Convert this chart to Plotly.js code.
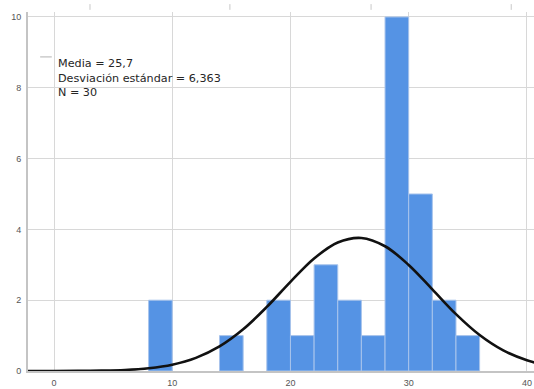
<!DOCTYPE html>
<html>
<head>
<meta charset="utf-8">
<script src="https://cdn.plot.ly/plotly-3.0.1.min.js"></script>
<style>html,body{margin:0;padding:0;background:#fff;}#chart{width:534px;height:389px;}</style>
</head>
<body>
<div id="chart"></div>
<script>
// Histogram bins (centres) and counts
const binCenters = [9, 15, 19, 21, 23, 25, 27, 29, 31, 33, 35];
const binCounts  = [2, 1, 2, 1, 3, 2, 1, 10, 5, 2, 1];
const binWidth = 2;

// Normal curve
const curveX = [-3, -2, 0, 2, 4, 6, 8, 10, 12, 14, 16, 18, 20, 22, 24, 26, 28, 30, 32, 34, 36, 38, 40, 41];
const curveY = [0.0001, 0.0003, 0.001, 0.004, 0.011, 0.03, 0.079, 0.179, 0.371, 0.694, 1.177, 1.809, 2.519, 3.178, 3.630, 3.758, 3.524, 2.995, 2.305, 1.606, 1.015, 0.581, 0.301, 0.209];

const xTicks = [0, 10, 20, 30, 40];
const yTicks = [0, 2, 4, 6, 8, 10];
const statLines = ["Media = 25,7", "Desviación estándar = 6,363", "N = 30"];

const bars = {
  type: 'bar',
  x: binCenters,
  y: binCounts,
  width: binCenters.map(() => binWidth),
  marker: {color: '#5593e4', line: {color: '#a8c4ec', width: 1}},
  hoverinfo: 'x+y',
  showlegend: false
};
const curve = {
  type: 'scatter',
  mode: 'lines',
  x: curveX,
  y: curveY,
  line: {color: '#111111', width: 2.6, shape: 'spline', smoothing: 1},
  hoverinfo: 'skip',
  showlegend: false
};

const tickFont = {family: 'Liberation Sans, Arial, sans-serif', size: 9, color: '#555555'};
const annotations = [{
  xref: 'paper', yref: 'paper', x: 0.058, y: 0.817,
  xanchor: 'left', yanchor: 'middle', align: 'left', showarrow: false, borderpad: 0,
  text: statLines.join('<br>'),
  font: {family: 'DejaVu Sans, sans-serif', size: 11.2, color: '#262626'}
}];

const topTickX = [0.1225, 0.399, 0.678, 0.955];
const shapes = [
  {type: 'rect', xref: 'paper', yref: 'paper', x0: 0.024, x1: 0.561, y0: 0.713, y1: 0.922,
   fillcolor: '#ffffff', line: {width: 0}, layer: 'between'},
  {type: 'line', xref: 'paper', yref: 'paper', x0: 0.024, x1: 0.047, y0: 0.875, y1: 0.875,
   line: {color: '#cccccc', width: 1.5}, layer: 'above'}
].concat(topTickX.map(px => ({
  type: 'line', xref: 'paper', yref: 'paper', x0: px, x1: px, y0: 1.006, y1: 1.022,
  line: {color: '#c8c8c8', width: 1}
})));

const layout = {
  width: 534, height: 389,
  margin: {l: 28, r: 0, t: 12, b: 18, pad: 0},
  paper_bgcolor: '#ffffff', plot_bgcolor: '#ffffff',
  bargap: 0,
  xaxis: {
    range: [-2.2, 40.6], tickvals: xTicks, ticktext: xTicks.map(String),
    showgrid: true, gridcolor: '#d8d8d8', gridwidth: 1,
    zeroline: false, showline: true, linecolor: '#c4c4c4', linewidth: 2,
    ticks: '', tickfont: tickFont, ticklabelstandoff: 2
  },
  yaxis: {
    range: [0, 10.14], tickvals: yTicks, ticktext: yTicks.map(String),
    showgrid: true, gridcolor: '#d8d8d8', gridwidth: 1,
    zeroline: false, showline: true, linecolor: '#c4c4c4', linewidth: 2,
    ticks: '', tickfont: tickFont, ticklabelstandoff: 3
  },
  annotations: annotations,
  shapes: shapes,
  showlegend: false
};

Plotly.newPlot('chart', [bars, curve], layout, {displayModeBar: false, staticPlot: true});
</script>
</body>
</html>
